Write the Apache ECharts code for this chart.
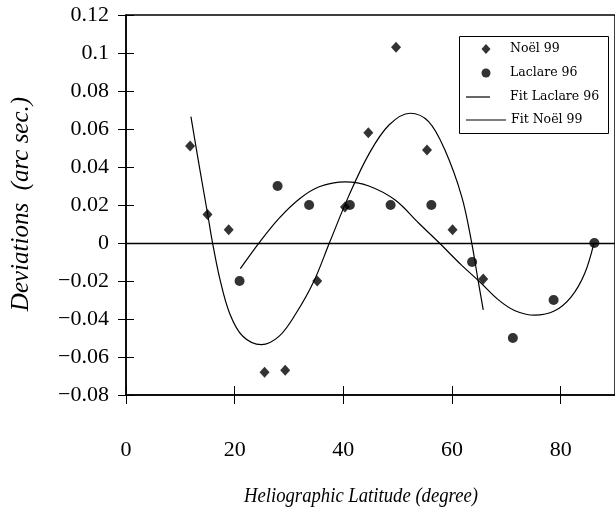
<!DOCTYPE html>
<html>
<head>
<meta charset="utf-8">
<script src="https://cdn.jsdelivr.net/npm/echarts@6/dist/echarts.min.js"></script>
<style>
  html, body { margin: 0; padding: 0; background: #fff; }
  #chart { width: 615px; height: 520px; }
</style>
</head>
<body>
<div id="chart"></div>
<script>
// Measured deviations (arc sec.) against heliographic latitude (degree)
const noelLat = [11.8, 15.0, 18.9, 25.5, 29.3, 35.2, 40.3, 44.6, 49.7, 55.4, 60.1, 65.75];
const noelDev = [0.051, 0.015, 0.007, -0.068, -0.067, -0.020, 0.019, 0.058, 0.103, 0.049, 0.007, -0.019];

const laclareLat = [20.9, 27.9, 33.7, 41.2, 48.7, 56.2, 63.7, 71.2, 78.7, 86.2];
const laclareDev = [-0.02, 0.03, 0.02, 0.02, 0.02, 0.02, -0.01, -0.05, -0.03, 0.0];

// Fitted curves, sampled along latitude
const fitNoelLat = [11.95, 13.54, 15.09, 15.85, 17.25, 19.1, 21.5, 24.9, 28.2, 31.3, 34.6, 37.5, 41.0, 44.7, 48.4, 52.3, 55.7, 58.7, 61.8, 63.6, 64.8, 65.75];
const fitNoelDev = [0.0665, 0.0395, 0.0142, 0.0013, -0.0186, -0.0372, -0.0491, -0.0535, -0.0490, -0.0370, -0.0200, 0.0005, 0.0248, 0.0468, 0.0621, 0.0683, 0.0639, 0.0489, 0.0243, 0.0005, -0.0197, -0.0352];

const fitLaclareLat = [21.04, 24.6, 28.2, 31.9, 35.55, 40.4, 44.7, 49.6, 53.85, 57.5, 61.8, 65.1, 68.5, 71.5, 75.2, 78.9, 81.9, 84.4, 86.1];
const fitLaclareDev = [-0.0135, 0.0005, 0.0131, 0.0232, 0.0296, 0.0322, 0.0300, 0.0225, 0.0105, 0.0005, -0.0118, -0.0204, -0.0298, -0.0355, -0.0380, -0.0357, -0.0285, -0.0162, -0.0003];

// Axis ranges and tick spacing
const latRange = [0, 90, 20];
const devRange = [-0.08, 0.12, 0.02];

const pairs = (xs, ys) => xs.map((x, i) => [x, ys[i]]);
const serif = 'Liberation Serif';
const fmtDev = v => {
  const s = String(parseFloat(Math.abs(v).toFixed(2)));
  return v < -1e-9 ? '\u2212' + s : s;
};

const grid = { left: 126, top: 15, width: 492, height: 380, show: true, borderColor: '#000', borderWidth: 1.5, backgroundColor: 'transparent' };

const xBase = { type: 'value', min: latRange[0], max: latRange[1], interval: latRange[2], splitLine: { show: false } };
const yBase = { type: 'value', min: devRange[0], max: devRange[1], interval: devRange[2], splitLine: { show: false } };

const legendText = { fontFamily: 'DejaVu Serif', fontSize: 12.5, color: '#000', lineHeight: 16 };

// One legend block per row so each key can have its own icon width
function legendRow(name, icon, left, top, w, h, padLeft) {
  return {
    data: [{ name: name, icon: icon }],
    left: left, top: top, padding: 0,
    itemWidth: w, itemHeight: h, z: 20,
    textStyle: Object.assign({ padding: [0, 0, 0, padLeft] }, legendText)
  };
}

const option = {
  animation: false,
  backgroundColor: '#fff',
  grid: grid,
  xAxis: [
    Object.assign({}, xBase, {
      position: 'bottom',
      axisLine: { show: true, onZero: false, lineStyle: { color: '#000', width: 1.5 } },
      axisTick: { show: true, inside: false, length: 9, lineStyle: { color: '#000', width: 1 } },
      axisLabel: { show: true, margin: 44, showMaxLabel: false, color: '#000', fontFamily: serif, fontSize: 22 }
    }),
    Object.assign({}, xBase, {
      position: 'bottom',
      axisLine: { show: false, onZero: false },
      axisTick: { show: true, inside: true, length: 9, lineStyle: { color: '#000', width: 1 } },
      axisLabel: { show: false }
    })
  ],
  yAxis: [
    Object.assign({}, yBase, {
      position: 'left',
      axisLine: { show: true, onZero: false, lineStyle: { color: '#000', width: 1.5 } },
      axisTick: { show: true, inside: false, length: 8, lineStyle: { color: '#000', width: 1 } },
      axisLabel: { show: true, margin: 17, color: '#000', fontFamily: serif, fontSize: 22, formatter: fmtDev }
    }),
    Object.assign({}, yBase, {
      position: 'left',
      axisLine: { show: false, onZero: false },
      axisTick: { show: true, inside: true, length: 8, lineStyle: { color: '#000', width: 1 } },
      axisLabel: { show: false }
    })
  ],
  legend: [
    legendRow('Noël 99', 'diamond', 481.5, 41, 9, 10, 14.5),
    legendRow('Laclare 96', 'circle', 481.5, 65, 9, 9, 14.5),
    legendRow('Fit Laclare 96', 'rect', 466, 89, 24, 1.2, 15),
    legendRow('Fit Noël 99', 'rect', 466, 112, 40, 1.2, 0)
  ],
  graphic: [
    {
      type: 'rect', left: 457, top: 34, z: 1,
      shape: { width: 149, height: 97 },
      style: { fill: 'none', stroke: '#000', lineWidth: 1 }
    },
    {
      type: 'text', x: 21, y: 204, rotation: Math.PI / 2, z: 10,
      style: {
        text: 'Deviations  (arc sec.)', fill: '#000',
        font: 'italic 25px "Liberation Serif"', align: 'center', verticalAlign: 'middle'
      }
    },
    {
      type: 'text', x: 361, y: 496, scaleX: 0.85, z: 10,
      style: {
        text: 'Heliographic Latitude (degree)', fill: '#000',
        font: 'italic 22px "Liberation Serif"', align: 'center', verticalAlign: 'middle'
      }
    }
  ],
  series: [
    {
      name: 'Noël 99', type: 'scatter', symbol: 'diamond', symbolSize: [10, 11],
      itemStyle: { color: '#000' }, z: 4,
      data: pairs(noelLat, noelDev)
    },
    {
      name: 'Laclare 96', type: 'scatter', symbol: 'circle', symbolSize: 10,
      itemStyle: { color: '#000' }, z: 4,
      data: pairs(laclareLat, laclareDev)
    },
    {
      name: 'Fit Laclare 96', type: 'line', smooth: 0.35, symbol: 'none', showSymbol: false,
      lineStyle: { color: '#000', width: 1.2 }, itemStyle: { color: '#000' }, z: 3,
      data: pairs(fitLaclareLat, fitLaclareDev),
      markLine: {
        silent: true, symbol: ['none', 'none'], label: { show: false },
        lineStyle: { color: '#000', width: 1.3, type: 'solid' },
        data: [{ yAxis: 0 }]
      }
    },
    {
      name: 'Fit Noël 99', type: 'line', smooth: 0.35, symbol: 'none', showSymbol: false,
      lineStyle: { color: '#000', width: 1.2 }, itemStyle: { color: '#000' }, z: 3,
      data: pairs(fitNoelLat, fitNoelDev)
    }
  ]
};

const chart = echarts.init(document.getElementById('chart'), null, { renderer: 'canvas' });
chart.setOption(option);
</script>
</body>
</html>
